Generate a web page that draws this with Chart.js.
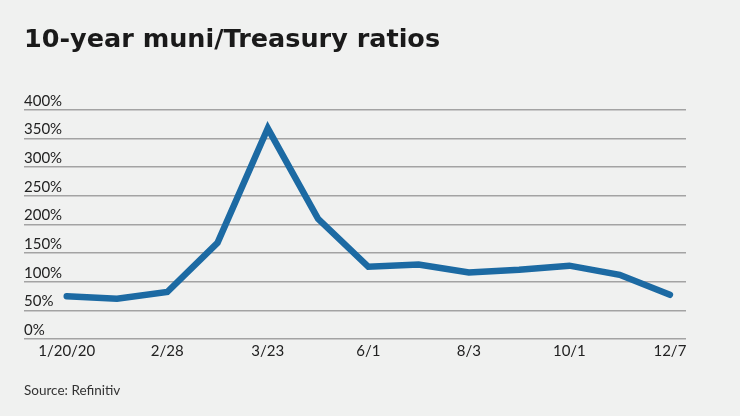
<!DOCTYPE html>
<html>
<head>
<meta charset="utf-8">
<script src="https://cdn.jsdelivr.net/npm/chart.js@4.4.1/dist/chart.umd.min.js"></script>
<style>
  html, body { margin: 0; padding: 0; background: #f0f1f0; }
  canvas { display: block; }
</style>
</head>
<body>
<canvas id="myChart" width="740" height="416"></canvas>
<script>
// dates for each observation (only every other one is shown on the axis)
var dates = ['1/20/20', '2/7', '2/28', '3/9', '3/23', '4/20', '6/1', '7/6', '8/3', '9/1', '10/1', '11/2', '12/7'];
// 10-year muni/Treasury ratio, percent
var ratios = [74.5, 70, 82, 168, 368, 210, 126, 130, 116, 121, 128, 112, 77];
// labels shown under the x axis
var shownDates = ['1/20/20', '2/28', '3/23', '6/1', '8/3', '10/1', '12/7'];
var yTicks = [0, 50, 100, 150, 200, 250, 300, 350, 400];

var points = [];
for (var i = 0; i < ratios.length; i++) {
    points.push({x: i, y: ratios[i]});
}

var ctx = document.getElementById('myChart').getContext('2d');
var myChart = new Chart(ctx, {
    type: 'line',
    data: {
        datasets: [{
            label: '10-year muni/Treasury ratio',
            data: points,
            borderColor: '#1c6aa3',
            borderWidth: 6.5,
            borderJoinStyle: 'miter',
            borderCapStyle: 'round',
            pointRadius: 0,
            tension: 0,
            fill: false
        }]
    },
    options: {
        responsive: false,
        devicePixelRatio: 1,
        animation: false,
        layout: {
            padding: {left: 24, right: 54, top: 0, bottom: 0}
        },
        plugins: {
            legend: {display: false},
            tooltip: {enabled: false},
            title: {
                display: true,
                text: '10-year muni/Treasury ratios',
                align: 'start',
                color: '#1a1a1a',
                font: {family: 'DejaVu Sans', size: 25.5, weight: 'bold', lineHeight: 1.2},
                padding: {top: 25, bottom: 54.4}
            },
            subtitle: {
                display: true,
                position: 'bottom',
                text: 'Source: Refinitiv',
                align: 'start',
                color: '#333',
                font: {family: 'Lato', size: 13.5, weight: 'normal', lineHeight: 1.2},
                padding: {top: 19.5, bottom: 17.4}
            }
        },
        scales: {
            x: {
                type: 'linear',
                min: -0.85,
                max: 12.32,
                grid: {display: false, drawTicks: false},
                border: {display: false},
                afterBuildTicks: function (axis) {
                    axis.ticks = [];
                    for (var j = 0; j < dates.length; j++) {
                        if (shownDates.indexOf(dates[j]) !== -1) {
                            axis.ticks.push({value: j});
                        }
                    }
                },
                ticks: {
                    padding: 3,
                    maxRotation: 0,
                    autoSkip: false,
                    color: '#222',
                    font: {family: 'Lato', size: 15, lineHeight: 1.2},
                    callback: function (value) {
                        return dates[value];
                    }
                }
            },
            y: {
                min: 0,
                max: 400,
                afterBuildTicks: function (axis) {
                    axis.ticks = yTicks.map(function (v) { return {value: v}; });
                },
                grid: {color: '#a3a3a3', lineWidth: 1.5, drawTicks: false},
                border: {display: false},
                ticks: {
                    mirror: true,
                    padding: 0,
                    labelOffset: -9,
                    color: '#222',
                    font: {family: 'Lato', size: 15, lineHeight: 1.2},
                    callback: function (value) {
                        return value + '%';
                    }
                }
            }
        }
    }
});
</script>
</body>
</html>
